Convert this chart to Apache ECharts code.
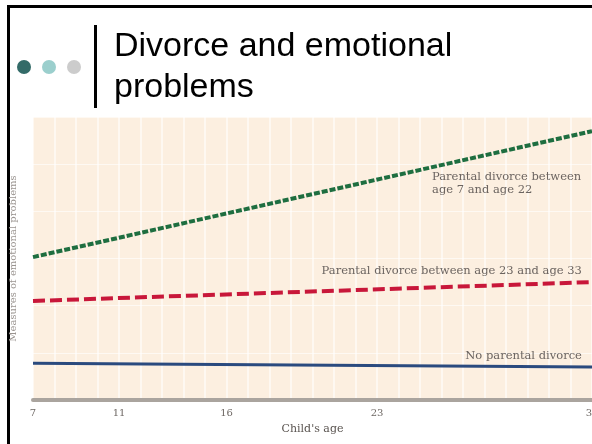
<!DOCTYPE html>
<html>
<head>
<meta charset="utf-8">
<script src="https://cdn.jsdelivr.net/npm/echarts@6/dist/echarts.min.js"></script>
<style>
  html, body { margin: 0; padding: 0; background: #fff; }
  #chart { width: 592px; height: 444px; }
</style>
</head>
<body>
<div id="chart"></div>
<script>
// child's age at the two ends of each line
var ages = [7, 33];
var tickAges = [7, 11, 16, 23, 33];

// measures of emotional problems (arbitrary units)
var earlyDivorce = [3.03, 5.70];
var lateDivorce = [2.10, 2.50];
var noDivorce = [0.78, 0.70];

var seriesNames = [
  "Parental divorce between\nage 7 and age 22",
  "Parental divorce between age 23 and age 33",
  "No parental divorce"
];
// where each label sits, [age, value]
var labelAt = [[25.56, 4.58], [32.53, 2.73], [32.53, 0.93]];

function pairs(vals) {
  return ages.map(function (a, i) { return [a, vals[i]]; });
}

var serif = "DejaVu Serif";
function note(i, side) {
  return {
    symbol: "circle",
    symbolSize: 0,
    silent: true,
    data: [{
      coord: labelAt[i],
      label: {
        show: true,
        position: side,
        distance: 0,
        formatter: seriesNames[i],
        color: "#6b6460",
        fontFamily: serif,
        fontSize: 11.5,
        lineHeight: 13
      }
    }]
  };
}

var myChart = echarts.init(document.getElementById("chart"));
var option = {
  backgroundColor: "#fff",
  animation: false,
  title: {
    text: "Divorce and emotional\nproblems",
    left: 109,
    top: 21,
    textStyle: {
      fontFamily: "Liberation Sans",
      fontWeight: "normal",
      fontSize: 34,
      lineHeight: 41,
      color: "#000"
    }
  },
  graphic: [
    { type: "rect", shape: { x: 7, y: 5, width: 600, height: 3 }, style: { fill: "#000" } },
    { type: "rect", shape: { x: 7, y: 5, width: 3, height: 450 }, style: { fill: "#000" } },
    { type: "circle", shape: { cx: 24, cy: 67, r: 7 }, style: { fill: "#336b68" } },
    { type: "circle", shape: { cx: 49, cy: 67, r: 7 }, style: { fill: "#9bcfcd" } },
    { type: "circle", shape: { cx: 74, cy: 67, r: 7 }, style: { fill: "#cccccc" } },
    { type: "rect", shape: { x: 94, y: 25, width: 3, height: 83 }, style: { fill: "#000" } }
  ],
  grid: {
    left: 33,
    right: 0,
    top: 117,
    bottom: 44,
    outerBoundsMode: "none",
    show: true,
    backgroundColor: "#fcefe0",
    borderWidth: 0
  },
  xAxis: {
    type: "value",
    min: 7,
    max: 33,
    interval: 1,
    name: "Child's age",
    nameLocation: "middle",
    nameGap: 24,
    nameTextStyle: { fontFamily: serif, fontSize: 11, color: "#5a5450" },
    axisLine: { show: true, lineStyle: { color: "#aaa49e", width: 4 } },
    axisTick: { show: false },
    axisLabel: {
      customValues: tickAges,
      margin: 8,
      fontFamily: serif,
      fontSize: 10,
      color: "#6e6864"
    },
    splitLine: { show: true, lineStyle: { color: "#ffffff", width: 1.5, opacity: 0.75 } }
  },
  yAxis: {
    type: "value",
    min: 0,
    max: 6,
    interval: 1,
    name: "Measures of emotional problems",
    nameLocation: "middle",
    nameGap: 15,
    nameTextStyle: { fontFamily: serif, fontSize: 10, color: "#9a9490" },
    axisLine: { show: false },
    axisTick: { show: false },
    axisLabel: { show: false },
    splitLine: { show: true, lineStyle: { color: "#ffffff", width: 1, opacity: 0.6 } }
  },
  series: [
    {
      type: "line",
      name: seriesNames[0],
      data: pairs(earlyDivorce),
      symbol: "none",
      lineStyle: { color: "#1e6e40", width: 4, type: [6, 2] },
      markPoint: note(0, "right")
    },
    {
      type: "line",
      name: seriesNames[1],
      data: pairs(lateDivorce),
      symbol: "none",
      lineStyle: { color: "#c8173a", width: 4, type: [12, 5] },
      markPoint: note(1, "left")
    },
    {
      type: "line",
      name: seriesNames[2],
      data: pairs(noDivorce),
      symbol: "none",
      lineStyle: { color: "#2a4a7e", width: 3 },
      markPoint: note(2, "left")
    }
  ]
};
myChart.setOption(option);
</script>
</body>
</html>
